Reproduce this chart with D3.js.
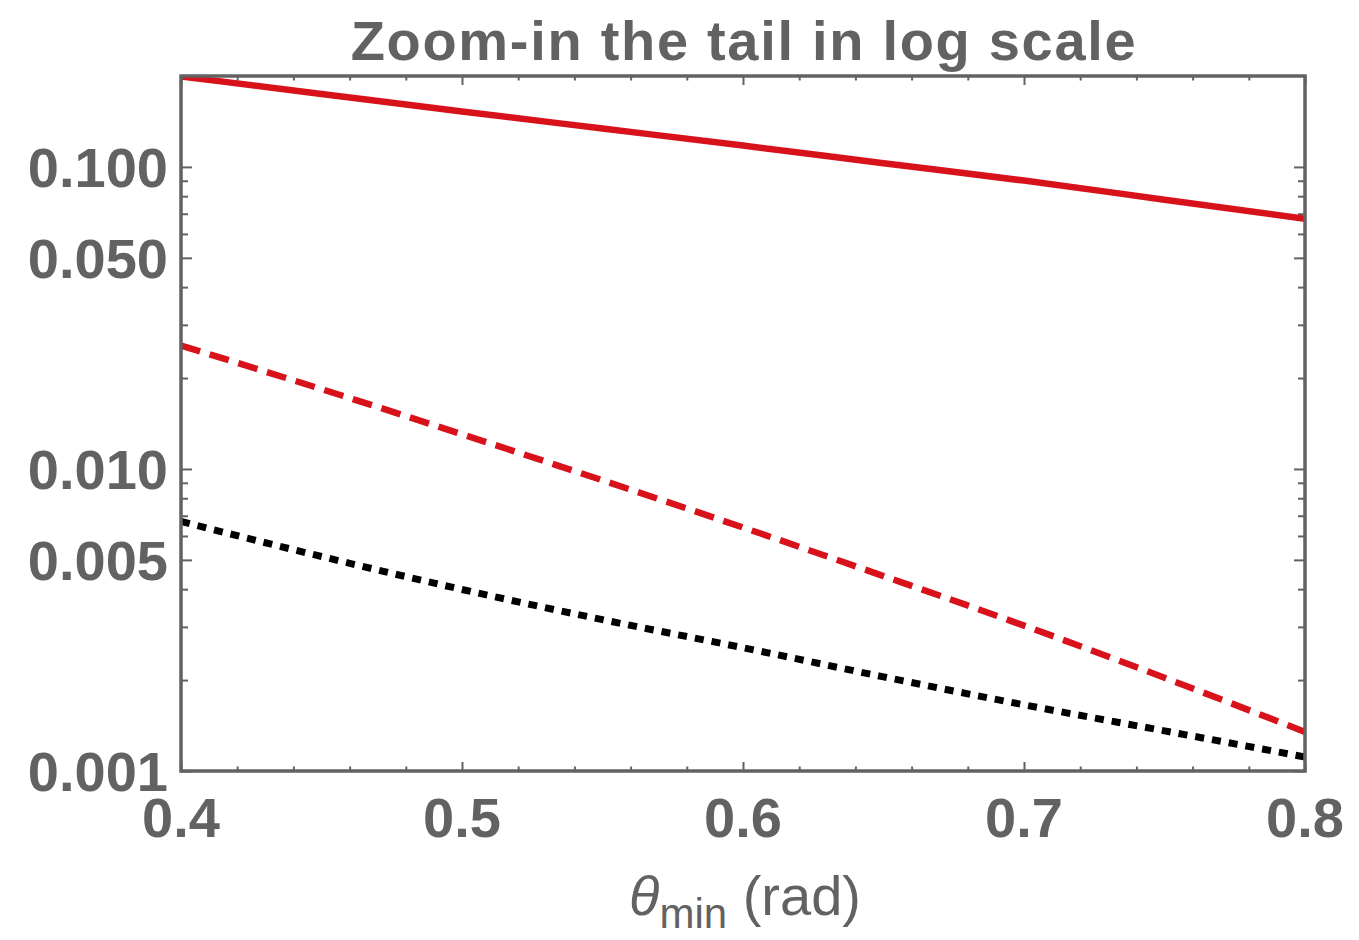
<!DOCTYPE html>
<html>
<head>
<meta charset="utf-8">
<script src="https://cdn.jsdelivr.net/npm/d3@7"></script>
<style>
  body { margin: 0; background: #ffffff; }
  svg { display: block; }
</style>
</head>
<body>
<svg id="chart" width="1359" height="940"></svg>
<script>
// ---------- data ----------
const theta       = [0.40, 0.45, 0.50, 0.55, 0.60, 0.65, 0.70, 0.75, 0.80];
const solidRed    = [0.1994, 0.1744, 0.1526, 0.1340, 0.1177, 0.1029, 0.0901, 0.0779, 0.0674];
const dashedRed   = [0.02563, 0.01838, 0.01303, 0.00917, 0.00640, 0.00442, 0.00303, 0.002035, 0.001347];
const dottedBlack = [0.00670, 0.00513, 0.00399, 0.00317, 0.00256, 0.00205, 0.001656, 0.001358, 0.001113];

const xMajorTicks  = [0.4, 0.5, 0.6, 0.7, 0.8];
const xTickLabels  = ["0.4", "0.5", "0.6", "0.7", "0.8"];
const xMinorTicks  = [0.42, 0.44, 0.46, 0.48, 0.52, 0.54, 0.56, 0.58, 0.62, 0.64, 0.66, 0.68, 0.72, 0.74, 0.76, 0.78];
const yMajorTicks  = [0.1, 0.05, 0.01, 0.005, 0.001];
const yTickLabels  = ["0.100", "0.050", "0.010", "0.005", "0.001"];
const yMinorTicks  = [0.09, 0.08, 0.07, 0.06, 0.04, 0.03, 0.02, 0.009, 0.008, 0.007, 0.006, 0.004, 0.003, 0.002];

const titleText = "Zoom-in the tail in log scale";
const xDomain = [0.4, 0.8];
const yDomain = [0.001, 0.2];

// ---------- layout ----------
const L = 181, R = 1305, T = 76, B = 771;
const grey = "#626262";
const font = "'Liberation Sans', Arial, Helvetica, sans-serif";

const svg = d3.select("#chart");
const x = d3.scaleLinear().domain(xDomain).range([L, R]);
const y = d3.scaleLog().domain(yDomain).range([B, T]);

svg.append("defs").append("clipPath").attr("id", "plotclip")
  .append("rect").attr("x", L).attr("y", T).attr("width", R - L).attr("height", B - T);

// ---------- ticks (inward, on all four sides) ----------
function tickAxis(axisFn, scale, values, size, transform) {
  const g = svg.append("g").attr("transform", transform)
    .call(axisFn(scale).tickValues(values).tickSize(size).tickFormat(""));
  g.select(".domain").remove();
  g.selectAll(".tick line").attr("stroke", grey).attr("stroke-width", 2);
  return g;
}
tickAxis(d3.axisBottom, x, xMajorTicks, -9, `translate(0,${B})`);
tickAxis(d3.axisBottom, x, xMinorTicks, -4.5, `translate(0,${B})`);
tickAxis(d3.axisTop, x, xMajorTicks, -9, `translate(0,${T})`);
tickAxis(d3.axisTop, x, xMinorTicks, -4.5, `translate(0,${T})`);
tickAxis(d3.axisLeft, y, yMajorTicks, -11, `translate(${L},0)`);
tickAxis(d3.axisLeft, y, yMinorTicks, -7, `translate(${L},0)`);
tickAxis(d3.axisRight, y, yMajorTicks, -11, `translate(${R},0)`);
tickAxis(d3.axisRight, y, yMinorTicks, -7, `translate(${R},0)`);

// ---------- curves ----------
const line = d3.line().x(d => x(d[0])).y(d => y(d[1])).curve(d3.curveMonotoneX);
const curves = svg.append("g").attr("clip-path", "url(#plotclip)");

curves.append("path")
  .attr("d", line(theta.map((t, i) => [t, dottedBlack[i]])))
  .attr("fill", "none").attr("stroke", "#000000").attr("stroke-width", 7)
  .attr("stroke-dasharray", "9,8");

curves.append("path")
  .attr("d", line(theta.map((t, i) => [t, dashedRed[i]])))
  .attr("fill", "none").attr("stroke", "#d8121a").attr("stroke-width", 6.5)
  .attr("stroke-dasharray", "20,10");

curves.append("path")
  .attr("d", line(theta.map((t, i) => [t, solidRed[i]])))
  .attr("fill", "none").attr("stroke", "#d8121a").attr("stroke-width", 6.5);

// ---------- frame ----------
svg.append("rect").attr("x", L).attr("y", T).attr("width", R - L).attr("height", B - T)
  .attr("fill", "none").attr("stroke", grey).attr("stroke-width", 3.5);

// ---------- tick labels ----------
svg.append("g").selectAll("text").data(xMajorTicks).join("text")
  .attr("x", d => x(d)).attr("y", 837)
  .attr("text-anchor", "middle")
  .attr("font-family", font).attr("font-weight", "bold").attr("font-size", 56)
  .attr("fill", grey)
  .text((d, i) => xTickLabels[i]);

svg.append("g").selectAll("text").data(yMajorTicks).join("text")
  .attr("x", 168).attr("y", d => y(d) + 20)
  .attr("text-anchor", "end")
  .attr("font-family", font).attr("font-weight", "bold").attr("font-size", 56)
  .attr("fill", grey)
  .text((d, i) => yTickLabels[i]);

// ---------- title ----------
svg.append("text")
  .attr("x", (L + R) / 2 + 1).attr("y", 60)
  .attr("text-anchor", "middle")
  .attr("font-family", font).attr("font-weight", "bold").attr("font-size", 56)
  .attr("letter-spacing", 1.7)
  .attr("fill", grey)
  .text(titleText);

// ---------- x axis label ----------
const xl = svg.append("text")
  .attr("x", 745).attr("y", 915)
  .attr("text-anchor", "middle")
  .attr("font-family", font).attr("font-size", 56)
  .attr("fill", grey);
xl.append("tspan").attr("font-style", "italic").text("θ");
xl.append("tspan").attr("font-size", 42).attr("dy", 13).text("min");
xl.append("tspan").attr("dy", -13).text(" (rad)");
</script>
</body>
</html>
